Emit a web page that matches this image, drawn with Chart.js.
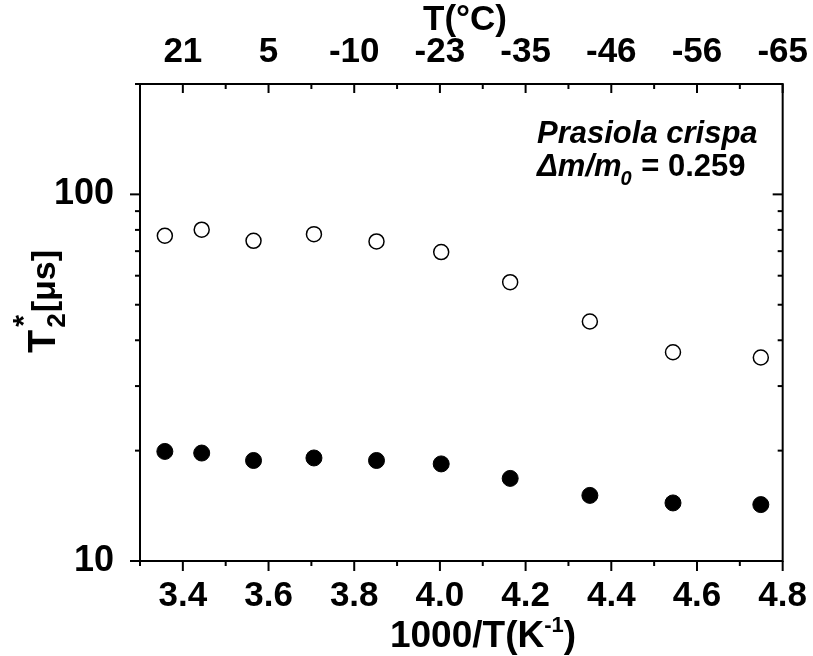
<!DOCTYPE html>
<html>
<head>
<meta charset="utf-8">
<script src="https://cdn.jsdelivr.net/npm/chart.js@4.4.1/dist/chart.umd.min.js"></script>
<style>
  html, body { margin: 0; padding: 0; background: #fff; }
  canvas { display: block; }
</style>
</head>
<body>
<canvas id="c" width="813" height="656"></canvas>
<script>
// ---- data ----
const invT = [3.358, 3.444, 3.565, 3.706, 3.852, 4.003, 4.164, 4.350, 4.544, 4.749];
const t2OpenValues = [77.1, 80.1, 74.7, 77.9, 74.4, 69.6, 57.6, 45.0, 37.1, 35.9];
const t2FilledValues = [19.9, 19.7, 18.8, 19.1, 18.8, 18.4, 16.8, 15.1, 14.4, 14.25];
const xTickValues = [3.3, 3.4, 3.5, 3.6, 3.7, 3.8, 3.9, 4.0, 4.1, 4.2, 4.3, 4.4, 4.5, 4.6, 4.7, 4.8];
const xTickLabels = ['3.4', '3.6', '3.8', '4.0', '4.2', '4.4', '4.6', '4.8'];
const topTickLabels = ['21', '5', '-10', '-23', '-35', '-46', '-56', '-65'];
const yTickValues = [10, 20, 30, 40, 50, 60, 70, 80, 90, 100, 200];
const yTickLabels = ['10', '100'];
const speciesName = 'Prasiola crispa';
const massRatio = '0.259';

const FONT = '"Liberation Sans", Arial, Helvetica, sans-serif';
const isMajorX = v => Math.round(v * 10) % 2 === 0;
const majorIndex = v => (Math.round(v * 10) - 34) / 2;

const openPts = invT.map((x, i) => ({ x, y: t2OpenValues[i] }));
const filledPts = invT.map((x, i) => ({ x, y: t2FilledValues[i] }));

const decor = {
  id: 'decor',
  beforeDraw(chart) {
    const ctx = chart.ctx;
    ctx.save();
    ctx.fillStyle = '#fff';
    ctx.fillRect(0, 0, chart.width, chart.height);
    ctx.restore();
  },
  afterDraw(chart) {
    const { ctx, chartArea: a, scales } = chart;
    ctx.save();
    ctx.strokeStyle = '#000';
    ctx.lineWidth = 2;
    ctx.strokeRect(a.left, a.top, a.right - a.left, a.bottom - a.top);
    const line = (x1, y1, x2, y2) => { ctx.beginPath(); ctx.moveTo(x1, y1); ctx.lineTo(x2, y2); ctx.stroke(); };
    xTickValues.forEach(v => {
      const px = scales.x.getPixelForValue(v);
      const L = isMajorX(v) ? 10 : 5;
      line(px, a.bottom, px, a.bottom + L);
      line(px, a.top, px, a.top + (isMajorX(v) ? 9 : 5));
    });
    yTickValues.forEach(v => {
      const py = scales.y.getPixelForValue(v);
      const L = yTickLabels.includes(String(v)) ? 10 : 5;
      line(a.left - L, py, a.left, py);
      line(a.right - L, py, a.right, py);
    });

    ctx.fillStyle = '#000';
    // bottom title 1000/T(K^-1)
    ctx.textBaseline = 'alphabetic';
    const f1 = 'bold 37px ' + FONT, fs = 'bold 22px ' + FONT;
    ctx.font = f1; const wA = ctx.measureText('1000/T(K').width; const wC = ctx.measureText(')').width;
    ctx.font = fs; const wB = ctx.measureText('-1').width;
    let x0 = 483 - (wA + wB + wC) / 2;
    const by = 647;
    ctx.font = f1; ctx.textAlign = 'left'; ctx.fillText('1000/T(K', x0, by);
    ctx.font = fs; ctx.fillText('-1', x0 + wA, by - 15);
    ctx.font = f1; ctx.fillText(')', x0 + wA + wB, by);

    // top title
    ctx.font = 'bold 35px ' + FONT; ctx.textAlign = 'center';
    ctx.fillText('T(\u00B0C)', 465, 30);

    // y title T2*[µs]
    ctx.save();
    ctx.translate(55, 353);
    ctx.rotate(-Math.PI / 2);
    ctx.textAlign = 'left';
    ctx.font = 'bold 38px ' + FONT;
    ctx.fillText('T', 0, 0);
    const wT = ctx.measureText('T').width;
    ctx.font = 'bold 26px ' + FONT;
    ctx.fillText('2', wT + 2, 10);
    const w2 = ctx.measureText('2').width;
    ctx.font = 'bold 30px ' + FONT;
    ctx.fillText('*', wT + 3, -22);
    ctx.font = 'bold 34px ' + FONT;
    ctx.fillText('[\u03BCs]', wT + 2 + w2 + 1, 0);
    ctx.restore();

    // annotation
    const ax = 537;
    ctx.textAlign = 'left';
    ctx.font = 'italic bold 31px ' + FONT;
    ctx.fillText(speciesName, ax, 143);
    const l2 = 176;
    ctx.fillText('\u0394m/m', ax, l2);
    const wd = ctx.measureText('\u0394m/m').width;
    ctx.font = 'italic bold 20px ' + FONT;
    ctx.fillText('0', ax + wd - 1, l2 + 9);
    const w0 = ctx.measureText('0').width;
    ctx.font = 'bold 31px ' + FONT;
    ctx.fillText(' = ' + massRatio, ax + wd + w0, l2);
    ctx.restore();
  }
};

new Chart(document.getElementById('c'), {
  type: 'scatter',
  data: {
    datasets: [
      { data: openPts, pointStyle: 'circle', pointRadius: 7.5, pointBackgroundColor: '#fff', pointBorderColor: '#000', pointBorderWidth: 1.5 },
      { data: filledPts, pointStyle: 'circle', pointRadius: 8, pointBackgroundColor: '#000', pointBorderColor: '#000', pointBorderWidth: 1 }
    ]
  },
  options: {
    responsive: false,
    devicePixelRatio: 1,
    animation: false,
    layout: { padding: { left: 0, right: 29, top: 0, bottom: 0 } },
    plugins: { legend: { display: false }, tooltip: { enabled: false } },
    scales: {
      x: {
        type: 'linear', position: 'bottom', min: 3.3, max: 4.8,
        afterBuildTicks: s => { s.ticks = xTickValues.map(v => ({ value: v })); },
        afterFit: s => { s.height = 95; },
        grid: { display: false }, border: { display: false },
        ticks: {
          autoSkip: false, maxRotation: 0, minRotation: 0, padding: 6, color: '#000',
          font: { family: FONT, size: 35, weight: 'bold' },
          callback: v => isMajorX(v) ? xTickLabels[majorIndex(v)] : ''
        }
      },
      x2: {
        type: 'linear', position: 'top', min: 3.3, max: 4.8,
        afterBuildTicks: s => { s.ticks = xTickValues.map(v => ({ value: v })); },
        afterFit: s => { s.height = 84; },
        grid: { display: false }, border: { display: false },
        ticks: {
          autoSkip: false, maxRotation: 0, minRotation: 0, padding: 3, color: '#000',
          font: { family: FONT, size: 35, weight: 'bold' },
          callback: v => isMajorX(v) ? topTickLabels[majorIndex(v)] : ''
        }
      },
      y: {
        type: 'logarithmic', position: 'left', min: 10, max: 200,
        afterBuildTicks: s => { s.ticks = yTickValues.map(v => ({ value: v })); },
        afterFit: s => { s.width = 140; },
        grid: { display: false }, border: { display: false },
        ticks: {
          autoSkip: false, padding: 18, color: '#000',
          font: { family: FONT, size: 36, weight: 'bold' },
          callback: v => yTickLabels.includes(String(v)) ? String(v) : ''
        }
      }
    }
  },
  plugins: [decor]
});
</script>
</body>
</html>
